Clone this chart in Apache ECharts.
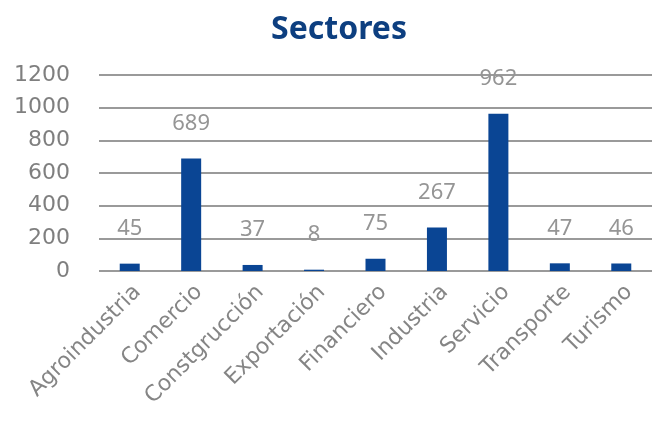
<!DOCTYPE html>
<html>
<head>
<meta charset="utf-8">
<script src="https://cdn.jsdelivr.net/npm/echarts@6/dist/echarts.min.js"></script>
<style>
  html, body { margin: 0; padding: 0; background: #fff; }
  #chart { width: 652px; height: 422px; }
</style>
</head>
<body>
<div id="chart"></div>
<script>
// data
const sectors = ["Agroindustria", "Comercio", "Constgrucción", "Exportación", "Financiero", "Industria", "Servicio", "Transporte", "Turismo"];
const counts = [45, 689, 37, 8, 75, 267, 962, 47, 46];
const yTicks = [0, 200, 400, 600, 800, 1000, 1200];

const chart = echarts.init(document.getElementById("chart"));

const option = {
  backgroundColor: "#ffffff",
  title: {
    text: "Sectores",
    left: 334,
    top: 9,
    textAlign: "center",
    textStyle: {
      color: "#0d3f80",
      fontSize: 32,
      fontWeight: "bold",
      fontFamily: "Noto Sans"
    }
  },
  grid: {
    left: 99,
    right: -6,
    top: 75,
    bottom: 151,
    containLabel: false
  },
  xAxis: {
    type: "category",
    data: sectors,
    axisLine: { show: false },
    axisTick: { show: false },
    axisLabel: {
      interval: 0,
      rotate: 45,
      margin: 10,
      verticalAlign: "top",
      color: "#858585",
      fontSize: 22,
      fontFamily: "DejaVu Sans"
    }
  },
  yAxis: {
    type: "value",
    min: yTicks[0],
    max: yTicks[yTicks.length - 1],
    interval: 200,
    axisLine: { show: false },
    axisTick: { show: false },
    axisLabel: {
      margin: 29,
      color: "#7f7f7f",
      fontSize: 22,
      fontFamily: "DejaVu Sans",
      formatter: (v) => String(v)
    },
    splitLine: {
      lineStyle: { color: "#9a9a9a", width: 2 }
    }
  },
  series: [{
    type: "bar",
    data: counts,
    barWidth: 20,
    itemStyle: { color: "#0a4594" },
    label: {
      show: true,
      position: "top",
      distance: 24,
      color: "#959595",
      fontSize: 22,
      fontFamily: "Noto Sans"
    }
  }]
};

chart.setOption(option);
</script>
</body>
</html>
